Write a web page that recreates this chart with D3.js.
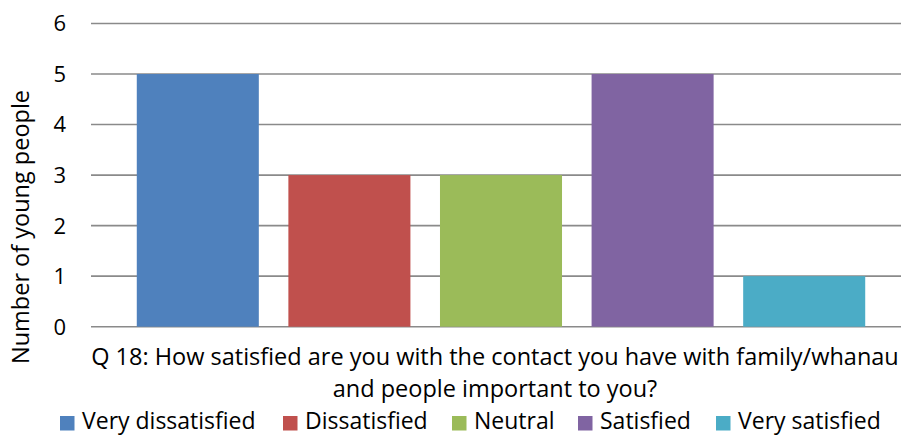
<!DOCTYPE html>
<html>
<head>
<meta charset="utf-8">
<script src="https://cdn.jsdelivr.net/npm/d3@7"></script>
<style>
  body { margin: 0; background: #fff; }
  svg text { font-family: "Open Sans", sans-serif; fill: #000; }
</style>
</head>
<body>
<div id="chart"></div>
<script>
var width = 901, height = 435;

// data
var categories = ["Very dissatisfied", "Dissatisfied", "Neutral", "Satisfied", "Very satisfied"];
var counts = [5, 3, 3, 5, 1];
var colors = ["#4F81BD", "#C0504D", "#9BBB59", "#8064A2", "#4BACC6"];
var yTicks = [0, 1, 2, 3, 4, 5, 6];
var xTitle = ["Q 18: How satisfied are you with the contact you have with family/whanau",
              "and people important to you?"];
var yTitle = "Number of young people";

var svg = d3.select("#chart").append("svg")
  .attr("width", width)
  .attr("height", height);

var x = d3.scaleBand()
  .domain(categories)
  .range([122, 880])
  .paddingInner(0.195)
  .paddingOuter(0.0975);

var y = d3.scaleLinear()
  .domain([0, 6])
  .range([326.7, 23.5]);

// gridlines
svg.append("g")
  .selectAll("line")
  .data(yTicks)
  .enter().append("line")
    .attr("x1", 91)
    .attr("x2", width)
    .attr("y1", function(d) { return y(d); })
    .attr("y2", function(d) { return y(d); })
    .attr("stroke", "#8a8a8a")
    .attr("stroke-width", 1.6);

// bars
svg.append("g")
  .selectAll("rect")
  .data(counts)
  .enter().append("rect")
    .attr("x", function(d, i) { return x(categories[i]); })
    .attr("y", function(d) { return y(d); })
    .attr("width", x.bandwidth())
    .attr("height", function(d) { return y(0) - y(d); })
    .attr("fill", function(d, i) { return colors[i]; });

// y tick labels
svg.append("g")
  .selectAll("text")
  .data(yTicks)
  .enter().append("text")
    .attr("x", 66)
    .attr("y", function(d) { return y(d); })
    .attr("dy", "0.36em")
    .attr("text-anchor", "end")
    .style("font-size", "22px")
    .text(function(d) { return d; });

// y title
svg.append("text")
  .attr("transform", "translate(29," + 227 + ") rotate(-90)")
  .attr("text-anchor", "middle")
  .style("font-size", "23.5px")
  .text(yTitle);

// x title
svg.selectAll(".xtitle")
  .data(xTitle)
  .enter().append("text")
    .attr("class", "xtitle")
    .attr("x", 495)
    .attr("y", function(d, i) { return 365 + i * 32; })
    .attr("text-anchor", "middle")
    .style("font-size", "23.5px")
    .text(function(d) { return d; });

// legend
var legendX = [60, 283, 452, 578, 716];
var legend = svg.append("g")
  .selectAll("g")
  .data(categories)
  .enter().append("g")
    .attr("transform", function(d, i) { return "translate(" + legendX[i] + ",0)"; });

legend.append("rect")
  .attr("y", 416)
  .attr("width", 14.5)
  .attr("height", 14.5)
  .attr("fill", function(d, i) { return colors[i]; });

legend.append("text")
  .attr("x", 22)
  .attr("y", 429)
  .style("font-size", "23px")
  .text(function(d) { return d; });
</script>
</body>
</html>
